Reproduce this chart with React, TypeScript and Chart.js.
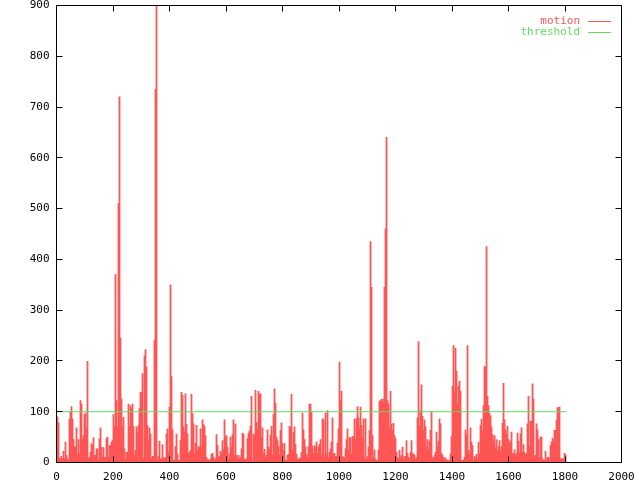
import { useEffect, useRef } from "react";
import { Chart, registerables } from "chart.js";

Chart.register(...registerables);

// motion value per sample (each sample covers ~3.54 frames)
const MOTION: number[] = [
  90, 78, 9, 7, 12, 7, 22, 7, 40, 14, 7, 4, 85, 99, 110, 86, 45, 30, 31, 68,
  17, 45, 17, 122, 115, 45, 53, 94, 97, 66, 199, 7, 10, 20, 37, 33, 49, 14, 14, 27,
  27, 3, 47, 68, 30, 10, 29, 10, 10, 47, 50, 10, 33, 33, 40, 43, 94, 70, 370, 122,
  71, 510, 720, 245, 125, 70, 89, 27, 7, 20, 20, 115, 71, 112, 106, 115, 71, 14, 24, 70,
  60, 73, 106, 138, 138, 175, 7, 210, 222, 188, 73, 43, 68, 56, 7, 12, 12, 240, 735, 900,
  4, 12, 42, 7, 7, 35, 9, 9, 9, 56, 66, 20, 109, 350, 169, 64, 4, 4, 31, 56,
  17, 4, 4, 43, 138, 132, 70, 60, 135, 75, 56, 17, 20, 24, 134, 96, 76, 17, 38, 73,
  25, 31, 29, 66, 31, 84, 75, 71, 53, 10, 5, 5, 3, 7, 16, 18, 10, 4, 7, 55,
  33, 10, 12, 22, 17, 43, 25, 84, 50, 53, 30, 7, 17, 50, 30, 55, 84, 14, 76, 14,
  7, 14, 7, 10, 27, 58, 56, 7, 5, 7, 47, 58, 62, 71, 130, 3, 56, 53, 142, 79,
  64, 140, 134, 135, 49, 68, 17, 26, 10, 14, 64, 30, 25, 54, 71, 14, 94, 145, 117, 50,
  43, 31, 16, 63, 78, 38, 24, 37, 5, 3, 14, 16, 71, 68, 134, 24, 60, 70, 35, 16,
  7, 5, 9, 7, 20, 97, 64, 45, 31, 16, 9, 31, 115, 115, 99, 31, 18, 33, 29, 40,
  18, 30, 35, 45, 14, 86, 84, 10, 97, 17, 102, 9, 20, 27, 40, 88, 16, 18, 12, 12,
  38, 66, 197, 121, 140, 12, 10, 9, 27, 45, 66, 24, 49, 49, 17, 51, 51, 86, 47, 86,
  110, 88, 68, 109, 73, 47, 86, 9, 86, 7, 12, 30, 63, 435, 345, 53, 9, 25, 7, 4,
  3, 25, 121, 122, 125, 118, 125, 345, 460, 640, 122, 115, 66, 140, 75, 63, 77, 53, 47, 20,
  9, 7, 24, 10, 14, 30, 7, 12, 12, 43, 18, 10, 7, 20, 43, 17, 17, 14, 7, 9,
  88, 238, 71, 102, 153, 91, 63, 84, 70, 30, 45, 25, 42, 63, 99, 10, 7, 14, 20, 60,
  30, 42, 86, 76, 18, 14, 10, 7, 9, 4, 5, 3, 4, 17, 51, 150, 230, 140, 225, 180,
  115, 150, 160, 140, 4, 3, 5, 10, 64, 54, 230, 24, 16, 68, 40, 33, 3, 12, 9, 16,
  7, 40, 17, 73, 85, 62, 112, 189, 188, 425, 130, 112, 96, 92, 70, 55, 43, 53, 29, 45,
  24, 31, 43, 22, 31, 77, 156, 84, 64, 55, 71, 45, 37, 42, 60, 18, 17, 25, 14, 18,
  58, 42, 18, 56, 68, 20, 35, 20, 17, 17, 76, 130, 31, 81, 81, 155, 125, 12, 14, 76,
  64, 45, 10,
  50, 50, 7, 4, 4, 22, 5, 10, 10, 5, 33, 40, 48, 40, 63, 63, 83, 108, 108, 109,
  7, 7, 7, 7, 18, 15,
];
const FIRST_FRAME = 3.54;
const FRAMES_PER_SAMPLE = 3.54;

const THRESHOLD = 100;
const THRESHOLD_FRAMES = [0, 1805];

const X_TICKS = [0, 200, 400, 600, 800, 1000, 1200, 1400, 1600, 1800, 2000];
const Y_TICKS = [0, 100, 200, 300, 400, 500, 600, 700, 800, 900];
const LEGEND_LABELS = ["motion", "threshold"];

const RED = "#ff5555";
const GREEN = "#5ee05e";
const FONT_FAMILY = "'DejaVu Sans Mono', monospace";
const FONT_SIZE = 11;

const framePlugin = {
  id: "gnuplotFrame",
  afterDraw(chart: any) {
    const { ctx, chartArea: a, scales } = chart;
    const xs = scales.x;
    const ys = scales.y;
    ctx.save();
    ctx.strokeStyle = "#000";
    ctx.lineWidth = 1;
    ctx.beginPath();
    ctx.rect(a.left, a.top, a.right - a.left, a.bottom - a.top);
    const T = 6;
    for (const v of Y_TICKS) {
      const y = Math.floor(ys.getPixelForValue(v)) + 0.5;
      ctx.moveTo(a.left, y);
      ctx.lineTo(a.left + T, y);
      ctx.moveTo(a.right, y);
      ctx.lineTo(a.right - T, y);
    }
    for (const v of X_TICKS) {
      const x = Math.floor(xs.getPixelForValue(v)) + 0.5;
      ctx.moveTo(x, a.bottom);
      ctx.lineTo(x, a.bottom - T);
      ctx.moveTo(x, a.top);
      ctx.lineTo(x, a.top + T);
    }
    ctx.stroke();

    // gnuplot-style key
    ctx.font = `${FONT_SIZE}px ${FONT_FAMILY}`;
    ctx.textAlign = "right";
    ctx.textBaseline = "middle";
    const colors = [RED, GREEN];
    LEGEND_LABELS.forEach((label, i) => {
      const y = 21.5 + i * 11;
      ctx.fillStyle = colors[i];
      ctx.fillText(label, 580, y);
      ctx.strokeStyle = colors[i];
      ctx.beginPath();
      ctx.moveTo(588, y);
      ctx.lineTo(611, y);
      ctx.stroke();
    });
    ctx.restore();
  },
};

export default function App() {
  const ref = useRef<HTMLCanvasElement>(null);
  useEffect(() => {
    const canvas = ref.current;
    if (!canvas) return;
    const font = { family: FONT_FAMILY, size: FONT_SIZE };
    const chart = new Chart(canvas, {
      type: "bar",
      data: {
        datasets: [
          {
            type: "line",
            label: LEGEND_LABELS[1],
            data: THRESHOLD_FRAMES.map((x) => ({ x, y: THRESHOLD })),
            borderColor: GREEN,
            borderWidth: 1,
            pointRadius: 0,
            order: 0,
          } as any,
          {
            type: "bar",
            label: LEGEND_LABELS[0],
            data: MOTION.map((y, i) => ({ x: FIRST_FRAME + i * FRAMES_PER_SAMPLE, y })),
            backgroundColor: RED,
            borderWidth: 0,
            barPercentage: 1,
            categoryPercentage: 1,
            inflateAmount: 0.4,
            order: 1,
          } as any,
        ],
      },
      options: {
        responsive: false,
        animation: false,
        events: [],
        layout: { padding: { top: 5.5, right: 18.5, left: 0, bottom: 0 } },
        plugins: { legend: { display: false }, tooltip: { enabled: false } },
        scales: {
          x: {
            type: "linear",
            min: 0,
            max: 2000,
            offset: false,
            grid: { display: false, drawTicks: false, offset: false },
            border: { display: false },
            ticks: {
              font,
              color: "#000",
              padding: 8,
              maxRotation: 0,
              autoSkip: false,
              callback: (v: any) => String(v),
            },
            afterBuildTicks: (s: any) => {
              s.ticks = X_TICKS.map((value) => ({ value }));
            },
            afterFit: (s: any) => {
              s.height = 17.5;
              s.paddingLeft = 0;
              s.paddingRight = 0;
            },
          },
          y: {
            type: "linear",
            min: 0,
            max: 900,
            grid: { display: false, drawTicks: false },
            border: { display: false },
            ticks: { font, color: "#000", padding: 7, callback: (v: any) => String(v) },
            afterBuildTicks: (s: any) => {
              s.ticks = Y_TICKS.map((value) => ({ value }));
            },
            afterFit: (s: any) => {
              s.width = 56.5;
              s.paddingTop = 0;
              s.paddingBottom = 0;
            },
          },
        } as any,
      },
      plugins: [framePlugin],
    });
    return () => chart.destroy();
  }, []);
  return (
    <div style={{ position: "fixed", left: 0, top: 0, width: 640, height: 480, background: "#fff" }}>
      <canvas ref={ref} width={640} height={480} style={{ display: "block" }} />
    </div>
  );
}
